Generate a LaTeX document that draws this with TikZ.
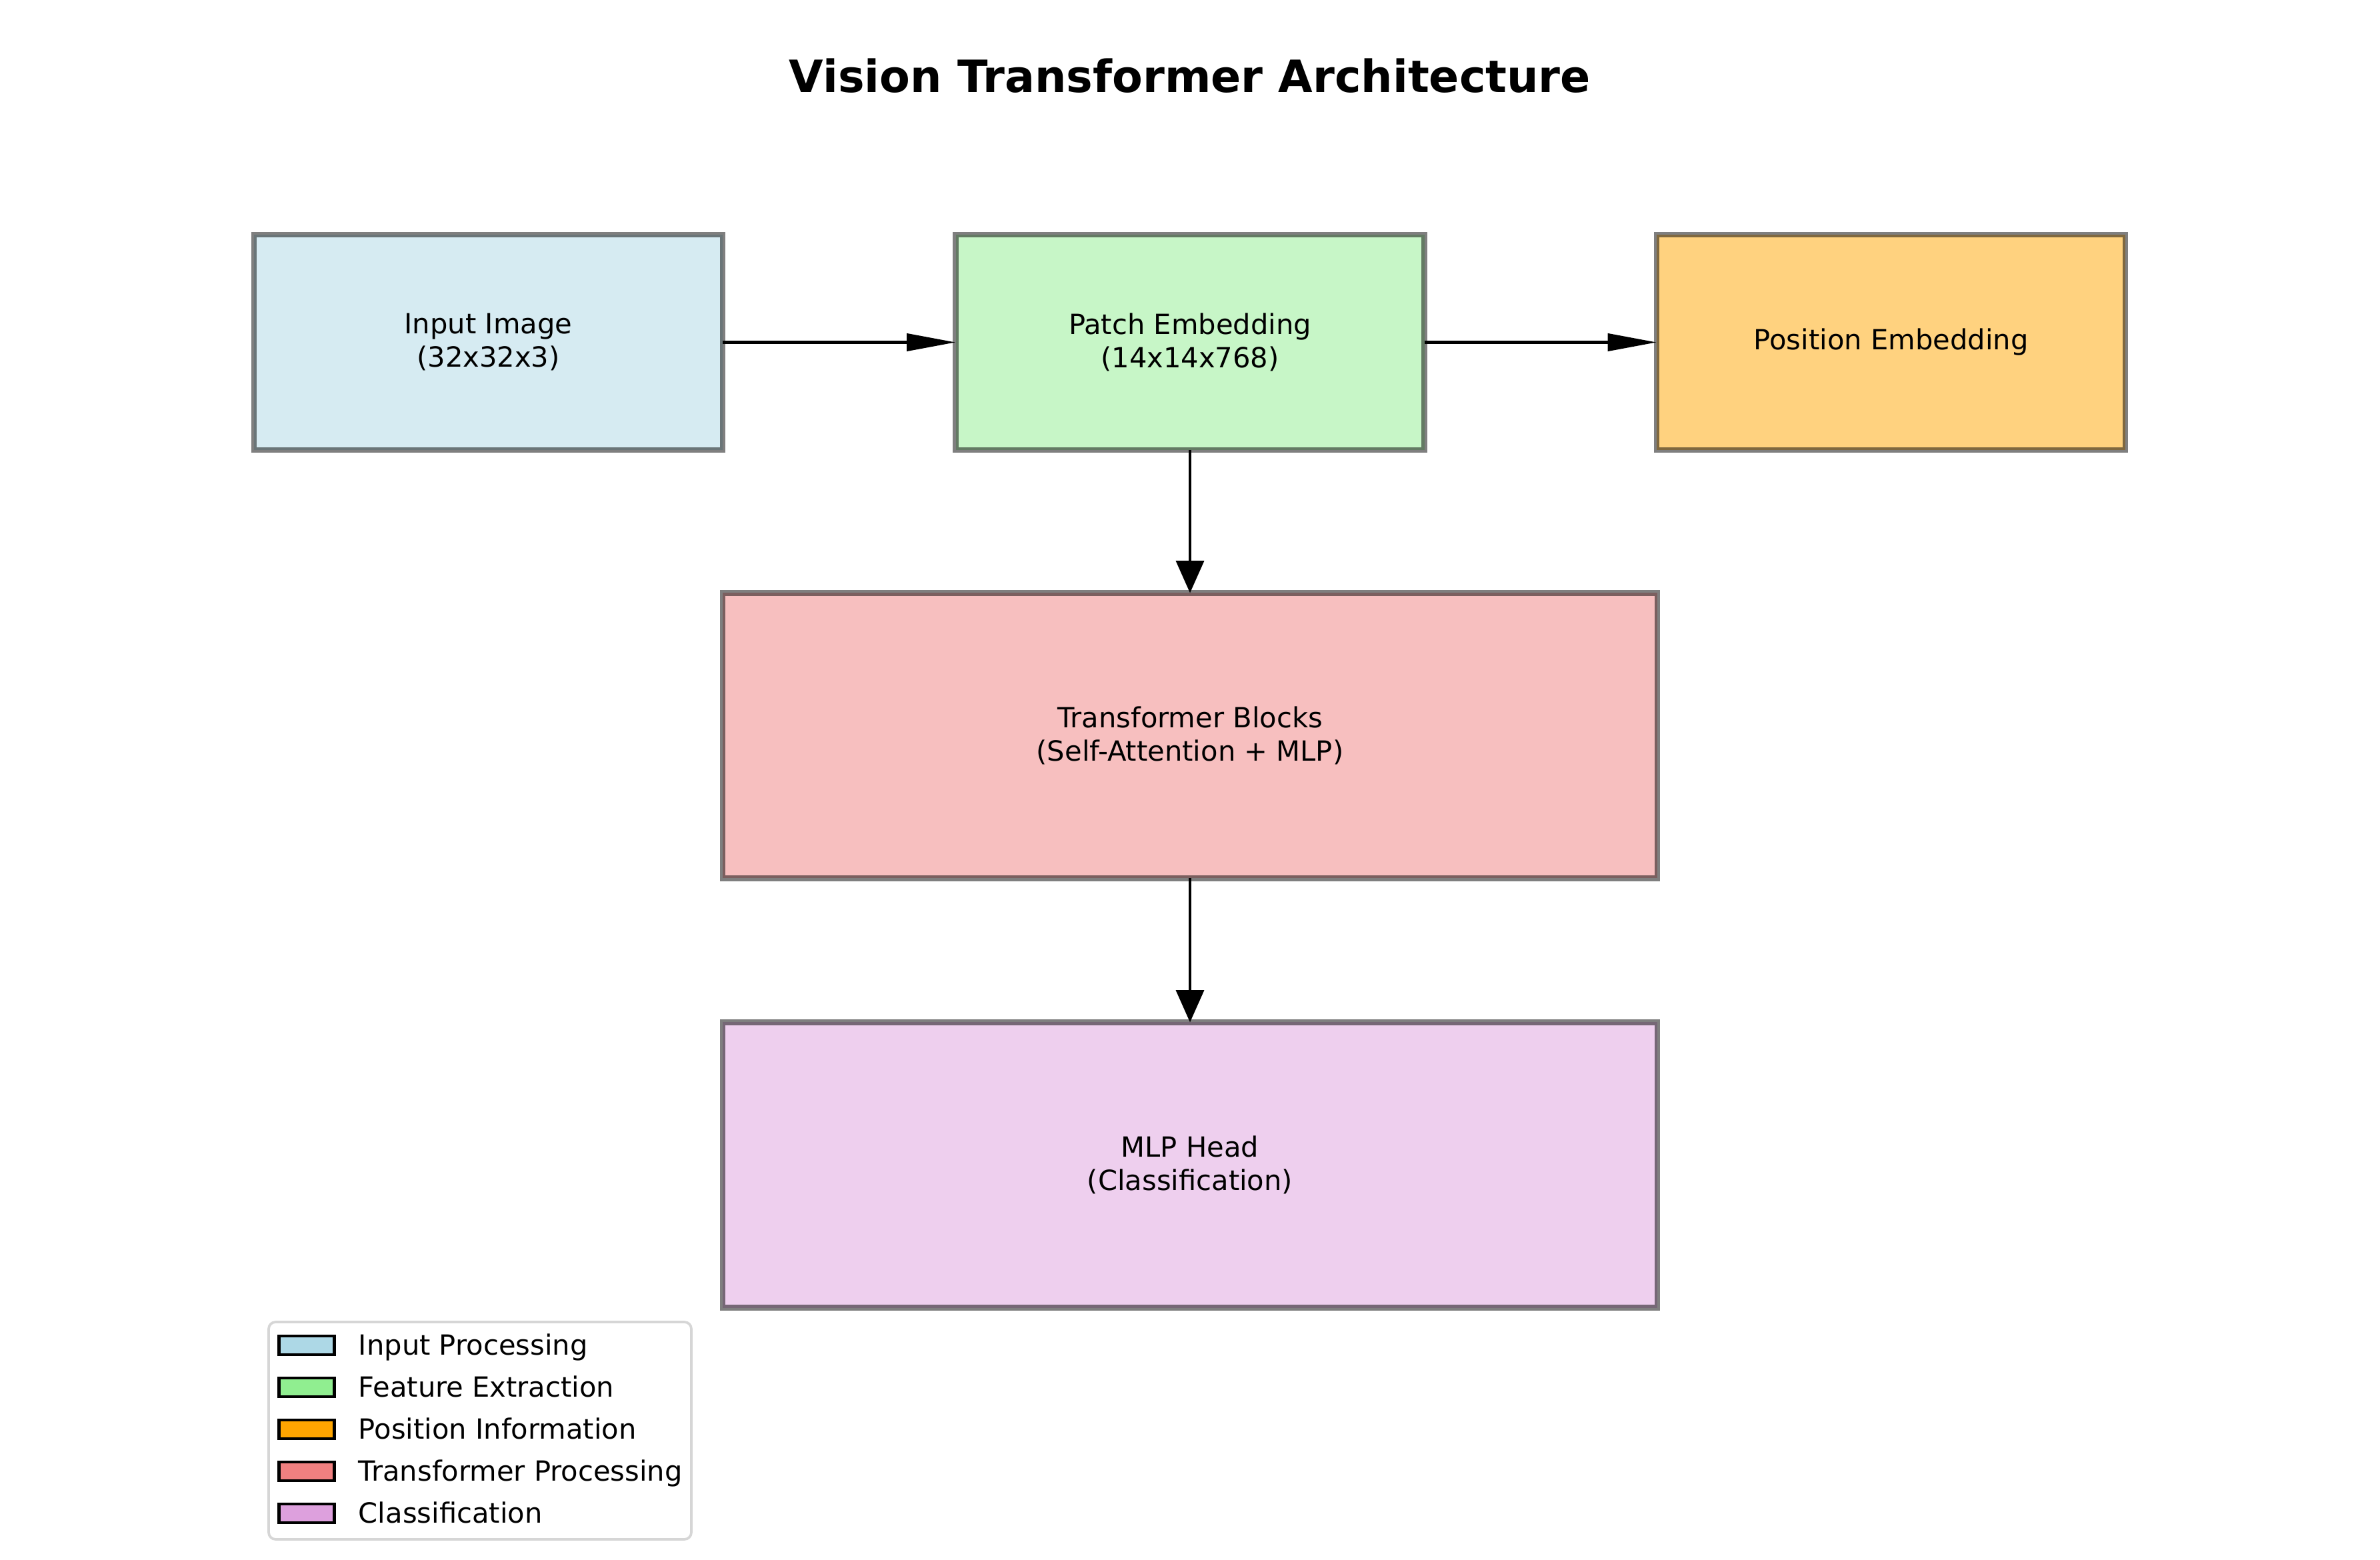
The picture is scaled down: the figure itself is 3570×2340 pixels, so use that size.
\documentclass[tikz,border=0pt]{standalone}
\usepackage{fontspec}
\setmainfont{DejaVu Sans}
\usetikzlibrary{arrows.meta}
\definecolor{lightblue}{HTML}{ADD8E6}
\definecolor{lightgreen}{HTML}{90EE90}
\definecolor{vitorange}{HTML}{FFA500}
\definecolor{lightcoral}{HTML}{F08080}
\definecolor{plum}{HTML}{DDA0DD}
\newcommand{\px}{0.24pt}

\begin{document}
\begin{tikzpicture}[x=\px, y=-\px,
    box/.style={draw=black, rectangle, fill opacity=0.5, draw opacity=0.5, text opacity=1, line width=2pt, minimum width=703*\px, minimum height=323*\px, inner sep=0pt, outer sep=0pt, align=center, font=\fontsize{10}{12}\selectfont},
    wide/.style={minimum width=1402*\px, minimum height=428*\px},
    hflow/.style={line width=1.1pt, -{Triangle[length=17.6pt, width=6.2pt]}},
    vflow/.style={line width=1.1pt, -{Triangle[length=11.6pt, width=10pt]}},
    key/.style={draw=black, rectangle, line width=1pt, minimum width=83*\px, minimum height=28*\px, inner sep=0pt},
    keytext/.style={anchor=base west, inner sep=0pt, font=\fontsize{10}{12}\selectfont}]
    \useasboundingbox (0,0) rectangle (3570,2340);

    % Title
    \node[font=\fontsize{16}{19}\selectfont\bfseries] (title) at (1785,114) {Vision Transformer Architecture};

    % Top row
    \node[box, fill=lightblue] (box-input) at (732.5,513.5) {Input Image\\(32x32x3)};
    \node[box, fill=lightgreen] (box-patch) at (1785,513.5) {Patch Embedding\\(14x14x768)};
    \node[box, fill=vitorange] (box-pos) at (2836.5,513.5) {Position Embedding};

    % Lower blocks
    \node[box, wide, fill=lightcoral] (box-trans) at (1785,1103.5) {Transformer Blocks\\(Self-Attention + MLP)};
    \node[box, wide, fill=plum] (box-head) at (1785,1747.5) {MLP Head\\(Classification)};

    % Flow
    \draw[hflow] (box-input.east) -- (box-patch.west);
    \draw[hflow] (box-patch.east) -- (box-pos.west);
    \draw[vflow] (box-patch.south) -- (box-trans.north);
    \draw[vflow] (box-trans.south) -- (box-head.north);

    % Legend
    \node[draw=black!16, fill=white, line width=0.9pt, rounded corners=2.5pt, minimum width=634*\px, minimum height=326*\px, inner sep=0pt] (legend) at (720,2146) {};
    \node[key, fill=lightblue] (key-1) at (460,2018) {};
    \node[key, fill=lightgreen] (key-2) at (460,2081) {};
    \node[key, fill=vitorange] (key-3) at (460,2144) {};
    \node[key, fill=lightcoral] (key-4) at (460,2207) {};
    \node[key, fill=plum] (key-5) at (460,2270) {};
    \node[keytext] (label-1) at (537,2032) {Input Processing};
    \node[keytext] (label-2) at (537,2095) {Feature Extraction};
    \node[keytext] (label-3) at (537,2158) {Position Information};
    \node[keytext] (label-4) at (537,2221) {Transformer Processing};
    \node[keytext] (label-5) at (537,2284) {Classification};

\end{tikzpicture}
\end{document}
